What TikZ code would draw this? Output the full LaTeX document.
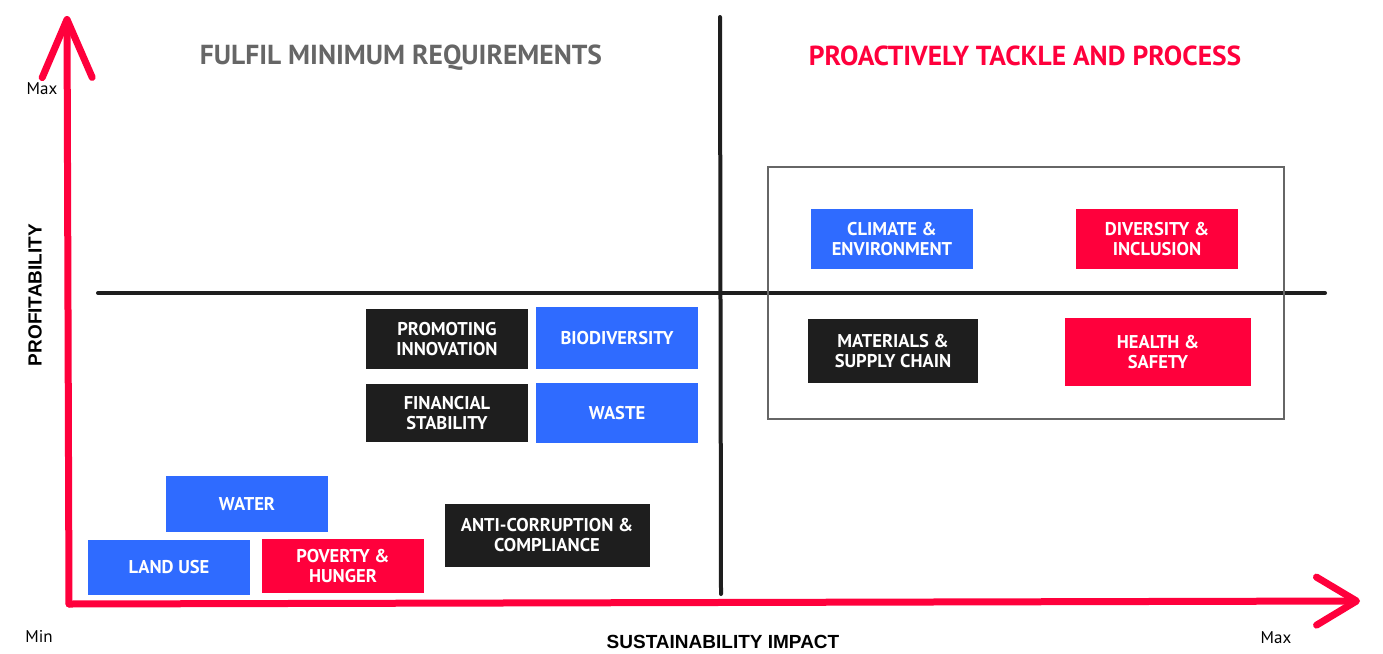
\documentclass[tikz,border=0pt]{standalone}
\usepackage{fontspec}
\setmainfont{PT Sans}
\newfontfamily\axisfont{Liberation Sans}
\usetikzlibrary{arrows.meta}
\definecolor{topicblue}{HTML}{2F6BFF}
\definecolor{topicred}{HTML}{FF003C}
\definecolor{topicblack}{HTML}{1E1E1E}
\definecolor{titlegray}{HTML}{666666}

\begin{document}
\begin{tikzpicture}[x=1pt,y=-1pt,
		topic/.style={minimum width=162pt,minimum height=60pt,inner sep=0pt,align=center,
			text=white,font=\fontsize{18.5}{19.5}\selectfont\bfseries},
		blue topic/.style={topic,fill=topicblue},
		red topic/.style={topic,fill=topicred},
		black topic/.style={topic,fill=topicblack},
		axis/.style={topicred,line width=7pt,line cap=round},
		divider/.style={topicblack,line width=4pt,line cap=round},
		heading/.style={font=\fontsize{27.5}{30}\selectfont\bfseries},
		scalemark/.style={font=\fontsize{17}{19}\selectfont},
		axislabel/.style={font=\axisfont\fontsize{19}{21}\selectfont\bfseries}]
		\useasboundingbox (0,0) rectangle (1383,653);
		% quadrant lines
		\coordinate (vtop) at (720,17);
		\coordinate (vbot) at (721,594);
		\coordinate (hleft) at (98,293);
		\coordinate (hright) at (1325,293);
		\draw[divider] (vtop) -- (vbot);
		\draw[divider] (hleft) -- (hright);
		% axes
		\coordinate (origin) at (69,604);
		\coordinate (ytip) at (67,16);
		\coordinate (xtip) at (1360,601);
		\draw[axis,-{Straight Barb[length=58pt,width=50pt,round]}] (origin) -- (ytip);
		\draw[axis,-{Straight Barb[length=40pt,width=48pt,round]}] (origin) -- (xtip);
		\node[scalemark] (ymax) at (42,89) {Max};
		\node[scalemark] (xmin) at (39,636) {Min};
		\node[scalemark] (xmax) at (1276,638) {Max};
		\node[axislabel,rotate=90] (profit) at (35,295) {PROFITABILITY};
		\node[axislabel] (impact) at (723,642) {SUSTAINABILITY IMPACT};
		% quadrant titles
		\node[heading,text=titlegray] (minimum) at (401,58) {FULFIL MINIMUM REQUIREMENTS};
		\node[heading,text=topicred] (proactive) at (1025,56) {PROACTIVELY TACKLE AND PROCESS};
		% focus area
		\node[draw=titlegray,line width=1.5pt,minimum width=516pt,minimum height=252pt] (focus) at (1026,293) {};
		\node[blue topic] (climate) at (892,239) {CLIMATE \&\\ENVIRONMENT};
		\node[red topic] (diversity) at (1157,239) {DIVERSITY \&\\INCLUSION};
		\node[black topic,minimum width=170pt,minimum height=64pt] (materials) at (893,351) {MATERIALS \&\\SUPPLY CHAIN};
		\node[red topic,minimum width=186pt,minimum height=68pt] (health) at (1158,352) {HEALTH \&\\SAFETY};
		% lower left quadrant
		\node[black topic] (innovation) at (447,339) {PROMOTING\\INNOVATION};
		\node[blue topic,minimum height=62pt] (biodiversity) at (617,338) {BIODIVERSITY};
		\node[black topic,minimum height=58pt] (financial) at (447,413) {FINANCIAL\\STABILITY};
		\node[blue topic] (waste) at (617,413) {WASTE};
		\node[blue topic,minimum height=56pt] (water) at (247,504) {WATER};
		\node[blue topic,minimum height=55pt] (landuse) at (169,567) {LAND USE};
		\node[red topic,minimum height=54pt] (poverty) at (343,566) {POVERTY \&\\HUNGER};
		\node[black topic,minimum width=205pt,minimum height=63pt] (anticorruption) at (547,535) {ANTI-CORRUPTION \&\\COMPLIANCE};
\end{tikzpicture}
\end{document}
